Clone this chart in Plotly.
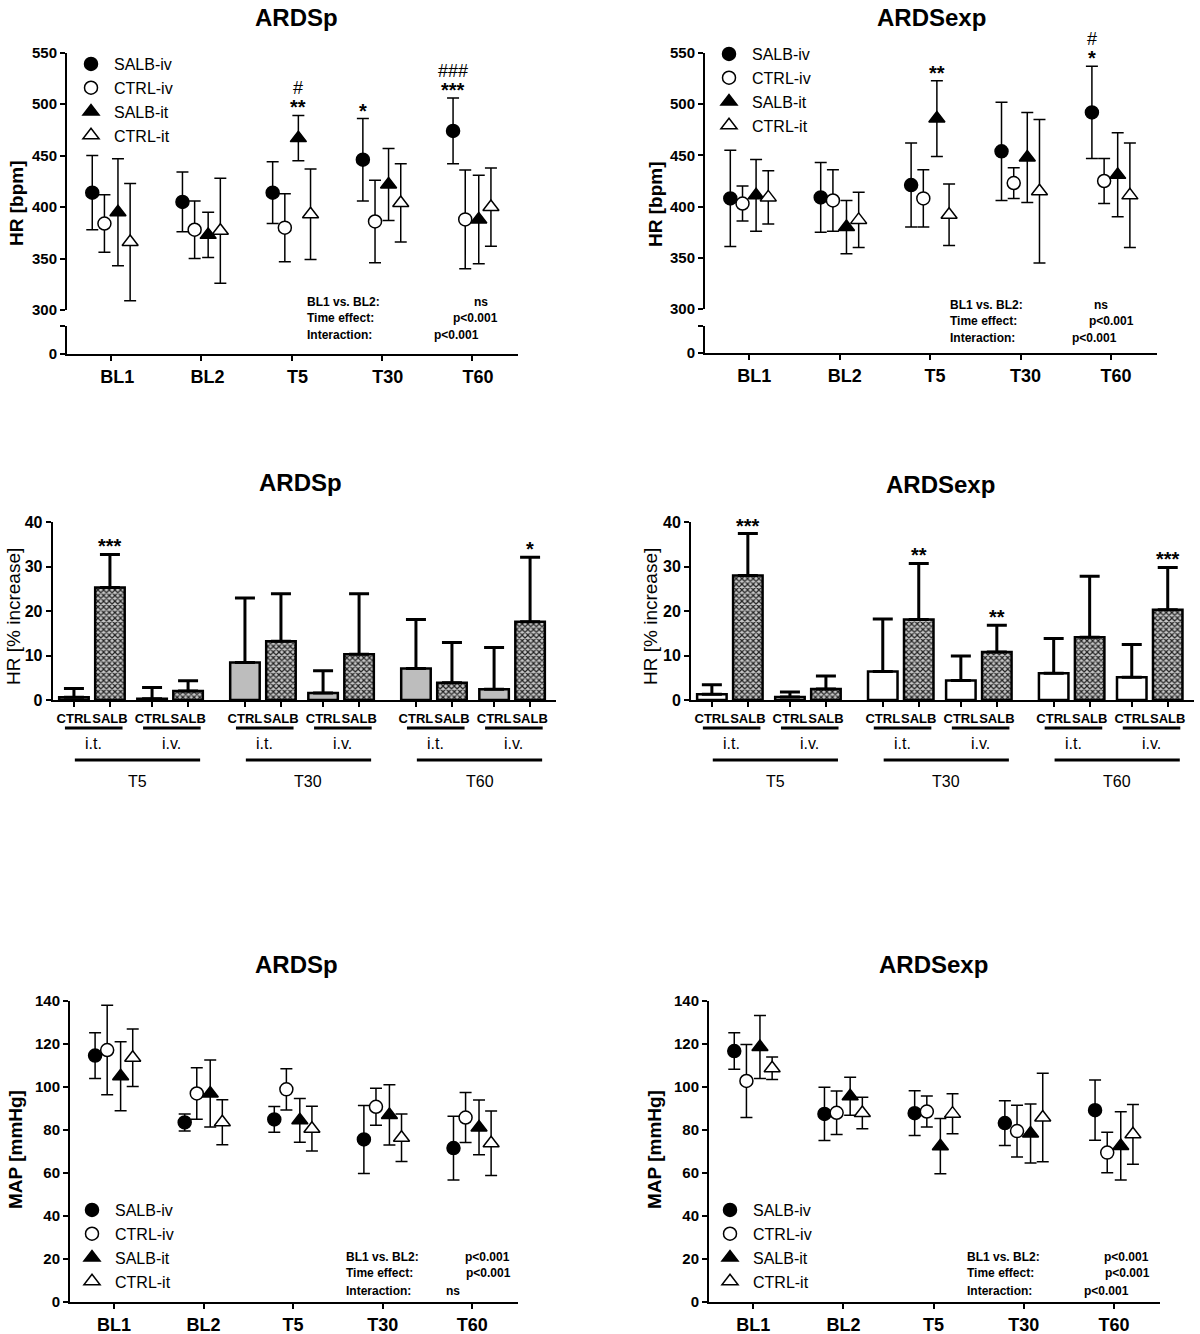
import plotly.graph_objects as go

W, H = 1200, 1334
FONT = "Liberation Sans, Arial, sans-serif"

# ---- data ----
TIMEPOINTS = ["BL1", "BL2", "T5", "T30", "T60"]
SERIES = ["SALB-iv", "CTRL-iv", "SALB-it", "CTRL-it"]
SERIES_SYMBOL = ["circle", "circle", "triangle-up", "triangle-up"]
SERIES_FILL = ["black", "white", "black", "white"]

# HR [bpm], ARDSp  (rows follow SERIES)
HR_P_MEAN = [[414, 405, 414, 446, 474],
             [384, 378, 380, 386, 388],
             [395, 373, 467, 422, 388],
             [366, 377, 393, 404, 400]]
HR_P_SD = [[36, 29, 30, 40, 32],
           [28, 28, 33, 40, 48],
           [52, 22, 22, 35, 43],
           [57, 51, 44, 38, 38]]

# HR [bpm], ARDSexp
HR_E_MEAN = [[408, 409, 421, 454, 492],
             [403, 406, 408, 423, 425],
             [411, 380, 486, 448, 431],
             [409, 387, 392, 415, 411]]
HR_E_SD = [[47, 34, 41, 48, 45],
           [17, 30, 28, 15, 22],
           [35, 26, 37, 44, 41],
           [26, 27, 30, 70, 51]]

# HR [% increase]  order: T5 i.t., T5 i.v., T30 i.t., T30 i.v., T60 i.t., T60 i.v.
GROUPS = ["T5", "T30", "T60"]
ROUTES = ["i.t.", "i.v."]
ARMS = ["CTRL", "SALB"]
PCT_P_CTRL = [0.6, 0.3, 8.4, 1.6, 7.1, 2.4]
PCT_P_CTRL_SD = [2.0, 2.5, 14.5, 5.0, 11.0, 9.4]
PCT_P_SALB = [25.3, 2.0, 13.2, 10.3, 3.9, 17.6]
PCT_P_SALB_SD = [7.4, 2.3, 10.7, 13.6, 9.0, 14.5]
PCT_E_CTRL = [1.3, 0.7, 6.4, 4.4, 6.0, 5.1]
PCT_E_CTRL_SD = [2.1, 1.1, 11.8, 5.5, 7.8, 7.4]
PCT_E_SALB = [28.0, 2.5, 18.1, 10.8, 14.1, 20.3]
PCT_E_SALB_SD = [9.4, 2.9, 12.6, 6.0, 13.7, 9.5]

# MAP [mmHg], ARDSp
MAP_P_MEAN = [[114.6, 83.5, 84.9, 75.6, 71.6],
              [117.2, 97.0, 98.9, 90.8, 85.8],
              [105.0, 97.0, 84.5, 87.0, 81.2],
              [113.6, 83.6, 80.6, 76.4, 73.8]]
MAP_P_SD = [[10.6, 4.0, 6.0, 15.8, 14.8],
            [20.8, 12.0, 9.6, 8.6, 11.6],
            [16.1, 15.6, 10.2, 14.0, 12.7],
            [13.4, 10.5, 10.4, 11.0, 15.0]]

# MAP [mmHg], ARDSexp
MAP_E_MEAN = [[116.7, 87.5, 87.8, 83.2, 89.2],
              [102.8, 88.0, 88.6, 79.5, 69.5],
              [118.6, 95.7, 72.5, 78.4, 72.6],
              [108.7, 87.9, 87.6, 85.8, 78.0]]
MAP_E_SD = [[8.5, 12.4, 10.4, 10.4, 14.0],
            [17.0, 10.1, 7.2, 12.0, 9.4],
            [14.6, 8.8, 12.9, 13.7, 15.9],
            [5.2, 7.3, 9.3, 20.6, 13.9]]

STAT_LABELS = ["BL1 vs. BL2:", "Time effect:", "Interaction:"]
HR_P_STATS = ["ns", "p<0.001", "p<0.001"]
HR_E_STATS = ["ns", "p<0.001", "p<0.001"]
MAP_P_STATS = ["p<0.001", "p<0.001", "ns"]
MAP_E_STATS = ["p<0.001", "p<0.001", "p<0.001"]

# significance marks: (timepoint index, series index, stars, hashes)
HR_P_SIG = [(2, 2, "**", "#"), (3, 0, "*", ""), (4, 0, "***", "###")]
HR_E_SIG = [(2, 2, "**", ""), (4, 0, "*", "#")]
# bar significance: (bar index in the 6-lists, stars) - all on SALB bars
PCT_P_SIG = [(0, "***"), (5, "*")]
PCT_E_SIG = [(0, "***"), (2, "**"), (3, "**"), (5, "***")]


# ---- helpers ----
def fx(px):
    return px / W


def fy(py):
    return 1 - py / H


OFFSETS = [-0.21, -0.075, 0.075, 0.21]
BAR_POS = [[g * 4.75 + r * 2.17 + k for k in range(2)] for g in range(3) for r in range(2)]

fig = go.Figure()


def axis(**kw):
    base = dict(showline=True, linecolor="black", linewidth=2, ticks="outside",
                ticklen=5, tickwidth=2, tickcolor="black", showgrid=False,
                zeroline=False, automargin=False, tickangle=0,
                tickfont=dict(family=FONT, size=15, color="black", weight="bold"))
    base.update(kw)
    return base


def add_points(xa, ya, mean, sd, legend):
    for i, name in enumerate(SERIES):
        fig.add_trace(go.Scatter(
            x=[t + OFFSETS[i] for t in range(len(TIMEPOINTS))], y=mean[i],
            mode="markers", name=name, xaxis=xa, yaxis=ya,
            legend=legend, legendgroup=legend + name, cliponaxis=False,
            marker=dict(symbol=SERIES_SYMBOL[i], size=13 if i < 2 else 14,
                        color=SERIES_FILL[i], line=dict(color="black", width=1.5)),
            error_y=dict(type="data", array=sd[i], color="black", thickness=1.5, width=6),
        ))


def add_sig(xa, ya, mean, sd, sig):
    for t, s, stars, hashes in sig:
        x = t + OFFSETS[s]
        top = mean[s][t] + sd[s][t]
        fig.add_annotation(x=x, y=top, xref=xa, yref=ya, text=stars, showarrow=False,
                           yanchor="bottom", yshift=-5, font=dict(family=FONT, size=20, weight="bold"))
        if hashes:
            fig.add_annotation(x=x, y=top, xref=xa, yref=ya, text=hashes, showarrow=False,
                               yanchor="bottom", yshift=15, font=dict(family=FONT, size=18))


def add_stats(values, left, rights, rows):
    for lab, val, r, y in zip(STAT_LABELS, values, rights, rows):
        f = dict(family=FONT, size=12, color="black", weight="bold")
        fig.add_annotation(x=fx(left), y=fy(y), xref="paper", yref="paper", text=lab,
                           showarrow=False, xanchor="left", yanchor="middle", font=f)
        fig.add_annotation(x=fx(r), y=fy(y), xref="paper", yref="paper", text=val,
                           showarrow=False, xanchor="right", yanchor="middle", font=f)


def add_bars(xa, ya, ctrl, ctrl_sd, salb, salb_sd, ctrl_color, sig):
    err = dict(type="data", symmetric=False, arrayminus=[0] * 6, color="black", thickness=3, width=10)
    fig.add_trace(go.Bar(x=[p[0] for p in BAR_POS], y=ctrl, width=0.82, xaxis=xa, yaxis=ya,
                         showlegend=False, name="CTRL",
                         marker=dict(color=ctrl_color, line=dict(color="black", width=2.5)),
                         error_y=dict(err, array=ctrl_sd)))
    fig.add_trace(go.Bar(x=[p[1] for p in BAR_POS], y=salb, width=0.82, xaxis=xa, yaxis=ya,
                         showlegend=False, name="SALB",
                         marker=dict(color="#9a9a9a", line=dict(color="black", width=2.5),
                                     pattern=dict(shape="x", size=4, solidity=0.5,
                                                  fgcolor="#222222", bgcolor="#c8c8c8",
                                                  fillmode="replace")),
                         error_y=dict(err, array=salb_sd)))
    for i, stars in sig:
        fig.add_annotation(x=BAR_POS[i][1], y=salb[i] + salb_sd[i], xref=xa, yref=ya, text=stars,
                           showarrow=False, yanchor="bottom", yshift=-5,
                           font=dict(family=FONT, size=20, weight="bold"))
    # group / route underlines and labels
    for g in range(3):
        for r in range(2):
            c = (BAR_POS[g * 2 + r][0] + BAR_POS[g * 2 + r][1]) / 2 + 0.05
            fig.add_shape(type="line", xref=xa, yref="paper", x0=c - 0.8, x1=c + 0.8,
                          y0=fy(728), y1=fy(728), line=dict(color="black", width=3))
            fig.add_annotation(x=c, y=fy(743), xref=xa, yref="paper", text=ROUTES[r],
                               showarrow=False, yanchor="middle",
                               font=dict(family=FONT, size=16, color="black"))
        gc = (BAR_POS[g * 2][0] + BAR_POS[g * 2 + 1][1]) / 2 + 0.18
        fig.add_shape(type="line", xref=xa, yref="paper", x0=gc - 1.74, x1=gc + 1.74,
                      y0=fy(760), y1=fy(760), line=dict(color="black", width=3))
        fig.add_annotation(x=gc, y=fy(781), xref=xa, yref="paper", text=GROUPS[g],
                           showarrow=False, yanchor="middle",
                           font=dict(family=FONT, size=16, color="black"))


def title(text, x, y):
    fig.add_annotation(x=fx(x), y=fy(y), xref="paper", yref="paper", text=text, showarrow=False,
                       xanchor="center", yanchor="middle",
                       font=dict(family=FONT, size=24, color="black", weight="bold"))


def ytitle(text, x, y, bold=True):
    fig.add_annotation(x=fx(x), y=fy(y), xref="paper", yref="paper", text=text, showarrow=False,
                       textangle=-90, xanchor="center", yanchor="middle",
                       font=dict(family=FONT, size=19, color="black", weight="bold" if bold else "normal"))


# ---- panels ----
x_cat = dict(range=[-0.49, 4.51], tickvals=list(range(5)), ticktext=TIMEPOINTS,
             tickfont=dict(family=FONT, size=18, color="black", weight="bold"))
low = dict(range=[0, 1], tickvals=[0, 1], ticktext=["0", ""])
up = dict(range=[300, 550], tickvals=[300, 350, 400, 450, 500, 550])

layout = dict(
    xaxis=axis(domain=[fx(67), fx(518)], anchor="y", ticklabelshift=6, **x_cat),
    yaxis=axis(domain=[fy(354), fy(326)], anchor="x", **low),
    yaxis2=axis(domain=[fy(310), fy(52.7)], anchor="x", **up),
    xaxis2=axis(domain=[fx(705), fx(1157)], anchor="y3", ticklabelshift=5, **x_cat),
    yaxis3=axis(domain=[fy(353), fy(326)], anchor="x2", **low),
    yaxis4=axis(domain=[fy(309), fy(53)], anchor="x2", **up),
    xaxis3=axis(domain=[fx(52.7), fx(556)], anchor="y5", range=[-0.59, 13.39],
                tickvals=[p for pair in BAR_POS for p in pair], ticktext=ARMS * 6,
                tickfont=dict(family=FONT, size=13, color="black", weight="bold")),
    yaxis5=axis(domain=[fy(700), fy(522)], anchor="x3", range=[0, 40], dtick=10,
                tickfont=dict(family=FONT, size=16, color="black", weight="bold")),
    xaxis4=axis(domain=[fx(691), fx(1194)], anchor="y6", range=[-0.58, 13.4],
                tickvals=[p for pair in BAR_POS for p in pair], ticktext=ARMS * 6,
                tickfont=dict(family=FONT, size=13, color="black", weight="bold")),
    yaxis6=axis(domain=[fy(700), fy(522)], anchor="x4", range=[0, 40], dtick=10,
                tickfont=dict(family=FONT, size=16, color="black", weight="bold")),
    xaxis5=axis(domain=[fx(70), fx(518)], anchor="y7", **x_cat),
    yaxis7=axis(domain=[fy(1302), fy(1001)], anchor="x5", range=[0, 140], dtick=20),
    xaxis6=axis(domain=[fx(709), fx(1160)], anchor="y8", **x_cat),
    yaxis8=axis(domain=[fy(1302), fy(1001)], anchor="x6", range=[0, 140], dtick=20),
)

# empty traces so the lower (broken) axis segments get drawn
for xa, ya in (("x", "y"), ("x2", "y3")):
    fig.add_trace(go.Scatter(x=[None], y=[None], xaxis=xa, yaxis=ya, showlegend=False,
                             hoverinfo="skip"))

add_points("x", "y2", HR_P_MEAN, HR_P_SD, "legend")
add_points("x2", "y4", HR_E_MEAN, HR_E_SD, "legend2")
add_points("x5", "y7", MAP_P_MEAN, MAP_P_SD, "legend3")
add_points("x6", "y8", MAP_E_MEAN, MAP_E_SD, "legend4")
add_sig("x", "y2", HR_P_MEAN, HR_P_SD, HR_P_SIG)
add_sig("x2", "y4", HR_E_MEAN, HR_E_SD, HR_E_SIG)

add_bars("x3", "y5", PCT_P_CTRL, PCT_P_CTRL_SD, PCT_P_SALB, PCT_P_SALB_SD, "#bdbdbd", PCT_P_SIG)
add_bars("x4", "y6", PCT_E_CTRL, PCT_E_CTRL_SD, PCT_E_SALB, PCT_E_SALB_SD, "white", PCT_E_SIG)

add_stats(HR_P_STATS, 305, [490, 500, 481], [302, 318, 335])
add_stats(HR_E_STATS, 948, [1110, 1136, 1119], [305, 321, 338])
add_stats(MAP_P_STATS, 344, [512, 513, 462], [1257, 1273, 1291])
add_stats(MAP_E_STATS, 965, [1151, 1152, 1131], [1257, 1273, 1291])

title("ARDSp", 296, 18)
title("ARDSexp", 931, 18)
title("ARDSp", 300, 483)
title("ARDSexp", 940, 485)
title("ARDSp", 296, 964)
title("ARDSexp", 933, 964)

ytitle("HR [bpm]", 16, 204)
ytitle("HR [bpm]", 655, 204)
ytitle("HR [% increase]", 13, 617, bold=False)
ytitle("HR [% increase]", 650, 617, bold=False)
ytitle("MAP [mmHg]", 15, 1150)
ytitle("MAP [mmHg]", 654, 1150)


def legend_at(x_marker, y_first):
    return dict(x=fx(x_marker - 24), y=fy(y_first - 16), xanchor="left", yanchor="top",
                font=dict(family=FONT, size=16, color="black"), tracegroupgap=0, itemwidth=36,
                bgcolor="rgba(0,0,0,0)", borderwidth=0, itemclick=False, itemdoubleclick=False)


fig.update_layout(
    width=W, height=H, margin=dict(l=0, r=0, t=0, b=0, autoexpand=False),
    paper_bgcolor="white", plot_bgcolor="white",
    font=dict(family=FONT, color="black"),
    barmode="overlay",
    legend=legend_at(92, 63),
    legend2=legend_at(730, 53),
    legend3=legend_at(93, 1209),
    legend4=legend_at(731, 1209),
    **layout,
)

# drop the browser's default page margin so the figure sits at the window's corner
fig.write_html("out.html", config={"displayModeBar": False},
               post_script="document.body.style.margin = '0px';")
